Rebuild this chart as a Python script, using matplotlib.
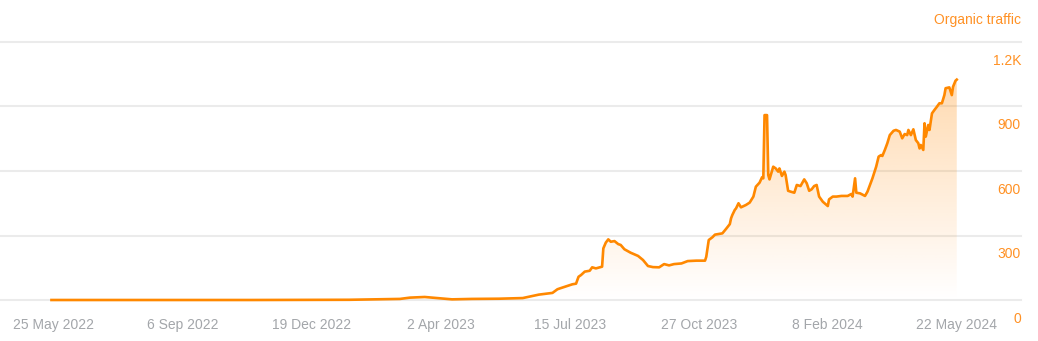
import numpy as np
import pandas as pd
import matplotlib
matplotlib.use("Agg")
import matplotlib.pyplot as plt
import matplotlib.dates as mdates
import matplotlib.transforms as mtransforms

# Daily organic traffic estimates (sampled at turning points)
dates = [
    "2022-05-23", "2022-08-01", "2022-11-01", "2023-01-18", "2023-02-28", "2023-03-08",
    "2023-03-20", "2023-04-01", "2023-04-11", "2023-04-27", "2023-05-19", "2023-06-07",
    "2023-06-20", "2023-07-01", "2023-07-05", "2023-07-07", "2023-07-17", "2023-07-20",
    "2023-07-22", "2023-07-24", "2023-07-27", "2023-07-31", "2023-08-02", "2023-08-05",
    "2023-08-10", "2023-08-11", "2023-08-13", "2023-08-15", "2023-08-17", "2023-08-20",
    "2023-08-23", "2023-08-25", "2023-08-28", "2023-09-02", "2023-09-08", "2023-09-12",
    "2023-09-16", "2023-09-20", "2023-09-25", "2023-09-29", "2023-10-03", "2023-10-07",
    "2023-10-13", "2023-10-18", "2023-10-25", "2023-11-01", "2023-11-02", "2023-11-04",
    "2023-11-07", "2023-11-09", "2023-11-15", "2023-11-18", "2023-11-21", "2023-11-22",
    "2023-11-23", "2023-11-25", "2023-11-26", "2023-11-28", "2023-11-30", "2023-12-04",
    "2023-12-07", "2023-12-10", "2023-12-12", "2023-12-15", "2023-12-17", "2023-12-18",
    "2023-12-19", "2023-12-21", "2023-12-22", "2023-12-23", "2023-12-26", "2023-12-28",
    "2023-12-30", "2023-12-31", "2024-01-02", "2024-01-04", "2024-01-05", "2024-01-07",
    "2024-01-09", "2024-01-12", "2024-01-14", "2024-01-17", "2024-01-20", "2024-01-22",
    "2024-01-24", "2024-01-26", "2024-01-28", "2024-01-30", "2024-02-01", "2024-02-04",
    "2024-02-08", "2024-02-09", "2024-02-12", "2024-02-15", "2024-02-19", "2024-02-24",
    "2024-02-27", "2024-02-28", "2024-03-01", "2024-03-02", "2024-03-05", "2024-03-09",
    "2024-03-11", "2024-03-13", "2024-03-15", "2024-03-18", "2024-03-20", "2024-03-22",
    "2024-03-23", "2024-03-25", "2024-03-27", "2024-03-29", "2024-04-01", "2024-04-03",
    "2024-04-06", "2024-04-08", "2024-04-10", "2024-04-12", "2024-04-13", "2024-04-15",
    "2024-04-17", "2024-04-19", "2024-04-21", "2024-04-22", "2024-04-23", "2024-04-25",
    "2024-04-26", "2024-04-27", "2024-04-29", "2024-04-30", "2024-05-02", "2024-05-04",
    "2024-05-06", "2024-05-08", "2024-05-10", "2024-05-12", "2024-05-13", "2024-05-16",
    "2024-05-18", "2024-05-19", "2024-05-21", "2024-05-22",
]
traffic = [
    0, 0, 0, 1, 5, 11,
    14, 8, 3, 5, 6, 9,
    25, 33, 50, 54, 73, 76,
    108, 116, 132, 136, 152, 147,
    155, 240, 267, 282, 271, 274,
    260, 256, 236, 220, 205, 186,
    158, 153, 152, 167, 161, 167,
    170, 181, 183, 183, 201, 279,
    292, 304, 310, 331, 353, 380,
    395, 419, 426, 450, 431, 442,
    453, 481, 527, 546, 571, 566,
    860, 860, 581, 561, 620, 612,
    597, 612, 577, 597, 581, 508,
    504, 499, 535, 530, 561, 543,
    508, 515, 530, 535, 481, 457,
    437, 468, 481, 481, 484, 484,
    493, 481, 566, 499, 496, 484,
    504, 535, 566, 620, 667, 674,
    670, 698, 729, 767, 787, 791,
    783, 752, 772, 767, 791, 767,
    794, 744, 729, 705, 721, 698,
    822, 760, 814, 791, 868, 884,
    899, 915, 915, 953, 985, 989,
    953, 992, 1020, 1025,
]

tick_dates = ["2022-05-25", "2022-09-06", "2022-12-19", "2023-04-02",
              "2023-07-15", "2023-10-27", "2024-02-08", "2024-05-22"]
tick_labels = ["25 May 2022", "6 Sep 2022", "19 Dec 2022", "2 Apr 2023",
               "15 Jul 2023", "27 Oct 2023", "8 Feb 2024", "22 May 2024"]
y_ticks = [0, 300, 600, 900, 1200]
y_labels = ["0", "300", "600", "900", "1.2K"]

ORANGE = "#ff8800"
LABEL_ORANGE = "#ff9124"
GRAY_TEXT = "#a3a6aa"
GRID = "#ebebeb"
FONT = "Liberation Sans"

x = mdates.date2num(pd.to_datetime(dates))
y = np.array(traffic, dtype=float)

fig = plt.figure(figsize=(10.38, 3.41), dpi=100)
ax = fig.add_axes([0, 41 / 341, 1021 / 1038, 258 / 341])

x0 = mdates.date2num(pd.Timestamp("2022-04-11 12:00"))
x1 = mdates.date2num(pd.Timestamp("2024-07-12 19:00"))
ax.set_xlim(x0, x1)
ax.set_ylim(0, 1200)

for s in ax.spines.values():
    s.set_visible(False)

# horizontal grid
for v in y_ticks:
    ax.axhline(v, color=GRID, lw=1.5, zorder=0, clip_on=False)

# gradient fill under the curve
poly = ax.fill_between(x, y, 0, color="none", lw=0)
h = 400
alpha = np.linspace(0, 0.36, h)[:, None]
rgba = np.zeros((h, 2, 4))
rgba[..., 0] = 1.0
rgba[..., 1] = 136 / 255
rgba[..., 2] = 0.0
rgba[..., 3] = alpha
img = ax.imshow(rgba, extent=[x[0], x[-1], 0, 1200], origin="lower",
                aspect="auto", zorder=1, interpolation="bilinear")
img.set_clip_path(poly.get_paths()[0], transform=ax.transData)

ax.plot(x, y, color=ORANGE, lw=1.9, zorder=3, clip_on=False,
        solid_joinstyle="round")

# x ticks
ax.set_xticks(mdates.date2num(pd.to_datetime(tick_dates)))
ax.set_xticklabels(tick_labels, fontsize=10, color=GRAY_TEXT, family=FONT)
ax.tick_params(axis="x", length=0, pad=13)
ax.set_yticks([])

# y labels sit just below their gridline on the right
offset = mtransforms.ScaledTranslation(0, -19 / 100, fig.dpi_scale_trans)
trans = mtransforms.blended_transform_factory(ax.transAxes, ax.transData) + offset
for v, lab in zip(y_ticks, y_labels):
    ax.text(1.0, v, lab, transform=trans, ha="right", va="center",
            fontsize=10, color=LABEL_ORANGE, family=FONT)

fig.text(1021 / 1038, 1 - 20 / 341, "Organic traffic", ha="right", va="center",
         fontsize=10, color=LABEL_ORANGE, family=FONT)

fig.savefig("out.png", dpi=100, facecolor="white")
